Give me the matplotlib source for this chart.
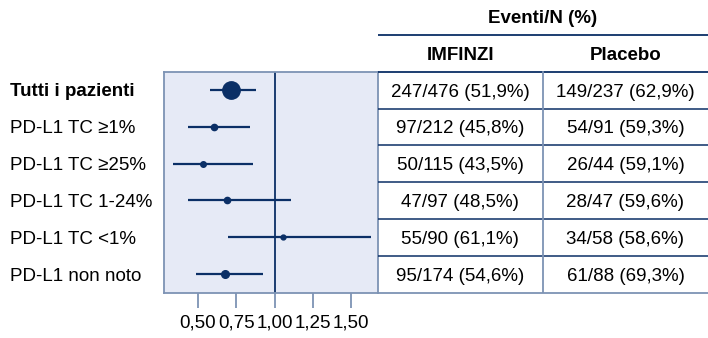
import matplotlib
matplotlib.use('Agg')
import matplotlib.pyplot as plt
from matplotlib.transforms import blended_transform_factory

plt.rcParams['font.family'] = ['Liberation Sans', 'DejaVu Sans']

# dati
sottogruppi = ['Tutti i pazienti', 'PD-L1 TC ≥1%', 'PD-L1 TC ≥25%',
               'PD-L1 TC 1-24%', 'PD-L1 TC <1%', 'PD-L1 non noto']
hr = [0.715, 0.605, 0.532, 0.691, 1.052, 0.676]
ci_low = [0.578, 0.434, 0.335, 0.434, 0.693, 0.487]
ci_high = [0.880, 0.841, 0.861, 1.106, 1.628, 0.924]
dim_punto = [12.5, 4.5, 4, 4.5, 3.5, 5.5]
imfinzi = ['247/476 (51,9%)', '97/212 (45,8%)', '50/115 (43,5%)',
           '47/97 (48,5%)', '55/90 (61,1%)', '95/174 (54,6%)']
placebo = ['149/237 (62,9%)', '54/91 (59,3%)', '26/44 (59,1%)',
           '28/47 (59,6%)', '34/58 (58,6%)', '61/88 (69,3%)']
tick_val = [0.50, 0.75, 1.00, 1.25, 1.50]
tick_lab = ['0,50', '0,75', '1,00', '1,25', '1,50']

navy = '#0b2f66'
bordo = '#7d93b4'
sfondo = '#e6eaf6'
W, H = 708, 338
fs = 13.5

fig = plt.figure(figsize=(W / 100, H / 100), dpi=100)

# forest plot
ax = fig.add_axes([164 / W, (H - 292.5) / H, 213.5 / W, 221 / H])
ax.set_facecolor(sfondo)
righe = list(range(len(sottogruppi)))
for i in righe:
    ax.plot([ci_low[i], ci_high[i]], [i, i], color=navy, lw=1.6, solid_capstyle='butt')
    ax.plot(hr[i], i, 'o', color=navy, ms=dim_punto[i], mec=navy)
ax.axvline(1.0, color=navy, lw=1.3)
ax.set_xlim(0.278, 1.672)
ax.set_ylim(5.5, -0.5)
ax.set_yticks([])
ax.set_xticks(tick_val)
ax.set_xticklabels(tick_lab, fontsize=fs)
ax.tick_params(axis='x', length=11, width=1.3, color=bordo, pad=5)
for s in ax.spines.values():
    s.set_color(bordo)
    s.set_linewidth(1.3)

# etichette sottogruppi
tr = blended_transform_factory(fig.transFigure, ax.transData)
for i, nome in enumerate(sottogruppi):
    ax.text(10 / W, i, nome, transform=tr, ha='left', va='center_baseline', fontsize=fs,
            fontweight='bold' if i == 0 else 'normal', color='black', clip_on=False)

# tabella
tb = fig.add_axes([377.5 / W, (H - 292.5) / H, (W - 377.5) / W, 292.5 / H])
tb.set_xlim(0, 1)
tb.set_ylim(5.5, -2.45)
tb.axis('off')
c1 = (543 - 377.5) / (W - 377.5)
for i in righe:
    tb.text(c1 / 2, i, imfinzi[i], ha='center', va='center_baseline', fontsize=fs)
    tb.text((1 + c1) / 2, i, placebo[i], ha='center', va='center_baseline', fontsize=fs)
tb.text(0.5, -2.0, 'Eventi/N (%)', ha='center', va='center_baseline', fontsize=fs, fontweight='bold')
tb.text(c1 / 2, -1.0, 'IMFINZI', ha='center', va='center_baseline', fontsize=fs, fontweight='bold')
tb.text((1 + c1) / 2, -1.0, 'Placebo', ha='center', va='center_baseline', fontsize=fs, fontweight='bold')

tb.plot([0, 1], [-1.5, -1.5], color=navy, lw=1.3)
tb.plot([0, 1], [-0.5, -0.5], color=navy, lw=1.3)
for i in righe[:-1]:
    tb.plot([0, 1], [i + 0.5, i + 0.5], color=navy, lw=1.1)
tb.plot([0, 1], [5.5, 5.5], color=bordo, lw=1.3, clip_on=False)
tb.plot([c1, c1], [-0.5, 5.5], color=bordo, lw=1.3)

fig.savefig('out.png', dpi=100)
